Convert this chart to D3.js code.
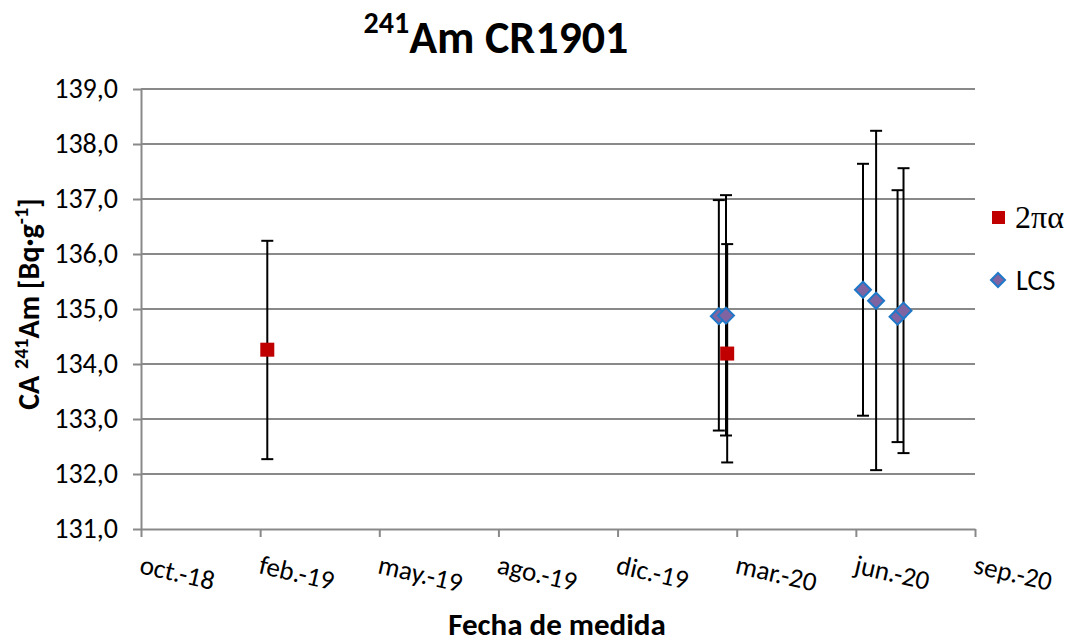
<!DOCTYPE html>
<html><head><meta charset="utf-8">
<script src="https://cdn.jsdelivr.net/npm/d3@7"></script>
<style>
html,body{margin:0;padding:0;background:#fff;}
svg text{font-family:Carlito,Calibri,"Open Sans",sans-serif;}
</style></head>
<body><svg id="chart" width="1075" height="642"></svg>
<script>
// ---- data ----
const tickDates = ["2018-10-29","2019-02-06","2019-05-17","2019-08-25","2019-12-03","2020-03-12","2020-06-20","2020-09-28"];
const tickLabels = ["oct.-18","feb.-19","may.-19","ago.-19","dic.-19","mar.-20","jun.-20","sep.-20"];
const yTicks = [131,132,133,134,135,136,137,138,139];

const alphaDates = ["2019-02-12","2020-03-04"];
const alphaValues = [134.26,134.19];
const alphaLow = [132.27,132.21];
const alphaHigh = [136.24,136.18];

const lcsDates = ["2020-02-26","2020-03-03","2020-06-26","2020-07-07","2020-07-25","2020-07-30"];
const lcsValues = [134.87,134.88,135.35,135.15,134.86,134.97];
const lcsLow = [132.79,132.70,133.06,132.07,132.58,132.38];
const lcsHigh = [136.98,137.07,137.64,138.24,137.16,137.56];

// ---- chart ----
(function(){
const svg = d3.select("#chart");
const parse = d3.utcParse("%Y-%m-%d");
const pL = 141, pR = 975, pT = 89, pB = 529;
const x = d3.scaleUtc().domain([parse(tickDates[0]), parse(tickDates[tickDates.length-1])]).range([pL, pR]);
const y = d3.scaleLinear().domain([131,139]).range([pB, pT]);
const gridColor = "#898989";
const font = 'Carlito,Calibri,"Open Sans",sans-serif';

svg.append("g").selectAll("line").data(yTicks.slice(1)).join("line")
  .attr("x1", pL).attr("x2", pR)
  .attr("y1", d => y(d)).attr("y2", d => y(d))
  .attr("stroke", gridColor).attr("stroke-width", 2);

const yAxis = d3.axisLeft(y).tickValues(yTicks).tickSize(8).tickSizeOuter(0)
  .tickFormat(d => d3.format(".1f")(d).replace(".", ","));
const gy = svg.append("g").attr("transform", `translate(${pL},0)`).call(yAxis);
gy.select(".domain").attr("stroke", gridColor).attr("stroke-width", 2);
gy.selectAll(".tick line").attr("stroke", gridColor).attr("stroke-width", 2);
gy.selectAll(".tick text").attr("x", -23).attr("fill", "#000").attr("font-size", 28)
  .style("font-family", font);

const xAxis = d3.axisBottom(x).tickValues(tickDates.map(parse)).tickSize(8).tickSizeOuter(0)
  .tickFormat((d, i) => tickLabels[i]);
const gx = svg.append("g").attr("transform", `translate(0,${pB})`).call(xAxis);
gx.select(".domain").attr("stroke", gridColor).attr("stroke-width", 2);
gx.selectAll(".tick line").attr("stroke", gridColor).attr("stroke-width", 2);
gx.selectAll(".tick text").attr("fill", "#000").attr("font-size", 27)
  .style("font-family", font)
  .attr("text-anchor", "start").attr("dy", null).attr("y", 0)
  .attr("transform", "translate(-3,44) rotate(13)");

function errorBars(dates, lo, hi) {
  const g = svg.append("g").attr("stroke", "#000").attr("stroke-width", 2);
  dates.forEach((d, i) => {
    const xx = x(parse(d));
    g.append("line").attr("x1", xx).attr("x2", xx).attr("y1", y(lo[i])).attr("y2", y(hi[i]));
    g.append("line").attr("x1", xx-6).attr("x2", xx+6).attr("y1", y(lo[i])).attr("y2", y(lo[i]));
    g.append("line").attr("x1", xx-6).attr("x2", xx+6).attr("y1", y(hi[i])).attr("y2", y(hi[i]));
  });
}
errorBars(alphaDates, alphaLow, alphaHigh);
errorBars(lcsDates, lcsLow, lcsHigh);

const diamond = s => `M0,${-s}L${s},0L0,${s}L${-s},0Z`;
svg.append("g").selectAll("path").data(lcsDates).join("path")
  .attr("d", diamond(8))
  .attr("transform", (d, i) => `translate(${x(parse(d))},${y(lcsValues[i])})`)
  .attr("fill", "#8064A2").attr("stroke", "#1F78C8").attr("stroke-width", 2);
svg.append("g").selectAll("rect").data(alphaDates).join("rect")
  .attr("x", d => x(parse(d)) - 7).attr("y", (d, i) => y(alphaValues[i]) - 7)
  .attr("width", 14).attr("height", 14).attr("fill", "#C00000");

const title = svg.append("text").attr("x", 496).attr("y", 53).attr("text-anchor", "middle")
  .attr("font-weight", "bold").attr("font-size", 46);
title.append("tspan").attr("font-size", 30).attr("dy", -20).text("241");
title.append("tspan").attr("dy", 20).text("Am CR1901");

svg.append("text").attr("x", 557).attr("y", 635).attr("text-anchor", "middle")
  .attr("font-weight", "bold").attr("font-size", 31).text("Fecha de medida");

const yt = svg.append("text").attr("transform", "translate(39,304) rotate(-90)")
  .attr("text-anchor", "middle").attr("font-weight", "bold").attr("font-size", 30);
yt.append("tspan").text("CA ");
yt.append("tspan").attr("font-size", 20).attr("dy", -11).text("241");
yt.append("tspan").attr("dy", 11).text("Am [Bq·g");
yt.append("tspan").attr("font-size", 20).attr("dy", -11).text("-1");
yt.append("tspan").attr("dy", 11).text("]");

const lg = svg.append("g");
lg.append("rect").attr("x", 992).attr("y", 211).attr("width", 13).attr("height", 13).attr("fill", "#C00000");
lg.append("text").attr("x", 1015).attr("y", 228).attr("font-size", 32)
  .style("font-family", '"Liberation Serif","Times New Roman",serif').text("2πα");
lg.append("path").attr("d", diamond(7)).attr("transform", "translate(998,280)")
  .attr("fill", "#8064A2").attr("stroke", "#1F78C8").attr("stroke-width", 2);
lg.append("text").attr("x", 1016).attr("y", 290).attr("font-size", 28).text("LCS");
})();
</script></body></html>
